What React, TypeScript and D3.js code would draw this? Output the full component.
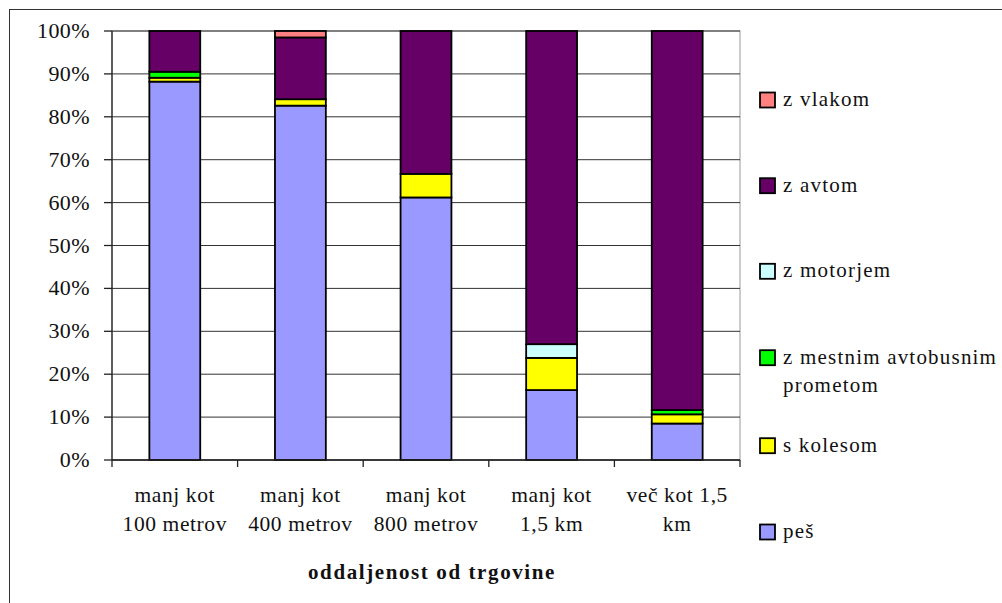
import React from "react";
import * as d3 from "d3";

const categories: string[][] = [
  ["manj kot", "100 metrov"],
  ["manj kot", "400 metrov"],
  ["manj kot", "800 metrov"],
  ["manj kot", "1,5 km"],
  ["več kot 1,5", "km"],
];
const pes = [88.2, 82.6, 61.2, 16.3, 8.5];
const kolesom = [0.9, 1.5, 5.5, 7.5, 2.15];
const avtobus = [1.4, 0, 0, 0, 1.0];
const motorjem = [0, 0, 0, 3.2, 0];
const avtom = [9.5, 14.4, 33.3, 73.0, 88.35];
const vlakom = [0, 1.5, 0, 0, 0];

const seriesNames = ["peš", "s kolesom", "z mestnim avtobusnim prometom", "z motorjem", "z avtom", "z vlakom"];
const seriesValues = [pes, kolesom, avtobus, motorjem, avtom, vlakom];
const seriesColors = ["#9999FF", "#FFFF00", "#00FF00", "#CCFFFF", "#660066", "#FF8080"];
const yTicks = [0, 10, 20, 30, 40, 50, 60, 70, 80, 90, 100];
const xTitle = "oddaljenost od trgovine";

const FONT = "Liberation Serif, Tinos, Times New Roman, serif";

export default function App() {
  const W = 1002, H = 603;
  const left = 112, right = 740, top = 31, bottom = 460;
  const keys = categories.map((c) => c.join(" "));
  const x = d3.scaleBand<string>().domain(keys).range([left, right]).padding(0);
  const y = d3.scaleLinear().domain([0, 100]).range([bottom, top]);
  const barW = x.bandwidth() * 0.405;

  const table = keys.map((k, i) => {
    const row: any = { key: k };
    seriesNames.forEach((s, j) => (row[s] = seriesValues[j][i]));
    return row;
  });
  const stacked = d3.stack<any>().keys(seriesNames)(table);

  const legendYs = [100, 185.7, 271.3, 357.7, 445.7, 532];
  const legendItems = [...seriesNames.map((n, i) => ({ n, c: seriesColors[i] }))].reverse();

  const boundaries = keys.map((k) => x(k)!).concat([right]);
  const txt = { fontFamily: FONT } as React.CSSProperties;

  return (
    <svg width={W} height={H} style={{ position: "absolute", left: 0, top: 0, background: "#fff", fontFamily: FONT }}>
      <rect x={9.5} y={9.5} width={1100} height={700} fill="#fff" stroke="#333" strokeWidth={1} />
      {/* plot area border */}
      <rect x={left} y={top} width={right - left} height={bottom - top} fill="#fff" stroke="#999" strokeWidth={1} />
      {/* gridlines */}
      {yTicks.map((t) => (
        <line key={t} x1={left} x2={right} y1={y(t)} y2={y(t)} stroke="#333" strokeWidth={1} />
      ))}
      {/* bars */}
      {stacked.map((layer, j) =>
        layer.map((d, i) => {
          const v = d[1] - d[0];
          if (v <= 0) return null;
          const cx = x(keys[i])! + x.bandwidth() / 2;
          return (
            <rect
              key={j + "-" + i}
              x={cx - barW / 2}
              y={y(d[1])}
              width={barW}
              height={y(d[0]) - y(d[1])}
              fill={seriesColors[j]}
              stroke="#000"
              strokeWidth={1.8}
            />
          );
        })
      )}
      {/* y axis */}
      <line x1={left} x2={left} y1={top} y2={bottom} stroke="#222" strokeWidth={1.3} />
      {yTicks.map((t) => (
        <g key={"yt" + t}>
          <line x1={left - 8} x2={left} y1={y(t)} y2={y(t)} stroke="#222" strokeWidth={1.3} />
          <text x={90} y={y(t) + 7} textAnchor="end" fontSize={22} letterSpacing={0.4} fill="#111" style={txt}>
            {t + "%"}
          </text>
        </g>
      ))}
      {/* x axis */}
      <line x1={left} x2={right} y1={bottom} y2={bottom} stroke="#222" strokeWidth={1.3} />
      {boundaries.map((bx, i) => (
        <line key={"xt" + i} x1={bx} x2={bx} y1={bottom} y2={bottom + 7} stroke="#222" strokeWidth={1.3} />
      ))}
      {categories.map((c, i) => {
        const cx = x(keys[i])! + x.bandwidth() / 2;
        return (
          <text key={"xl" + i} x={cx} textAnchor="middle" fontSize={21.5} fill="#111" letterSpacing={0.6} style={txt}>
            <tspan x={cx} y={502}>{c[0]}</tspan>
            <tspan x={cx} y={531}>{c[1]}</tspan>
          </text>
        );
      })}
      <text x={432} y={579} textAnchor="middle" fontSize={21} fontWeight="bold" letterSpacing={1.6} fill="#111" style={txt}>
        {xTitle}
      </text>
      {/* legend */}
      {legendItems.map((it, i) => {
        const cy = legendYs[i];
        const words = it.n === "z mestnim avtobusnim prometom" ? ["z mestnim avtobusnim", "prometom"] : [it.n];
        return (
          <g key={"lg" + i}>
            <rect x={760} y={cy - 7.5} width={15} height={15} fill={it.c} stroke="#000" strokeWidth={1.8} />
            {words.map((w, k) => (
              <text key={k} x={783} y={cy + 6 + k * 28} fontSize={21} letterSpacing={1.2} fill="#111" style={txt}>
                {w}
              </text>
            ))}
          </g>
        );
      })}
    </svg>
  );
}
